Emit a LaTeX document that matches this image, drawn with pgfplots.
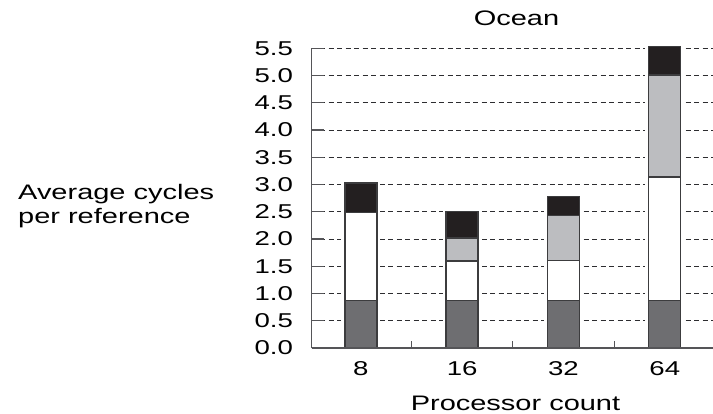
\documentclass[border=0pt]{standalone}
\usepackage{fontspec}
\setmainfont[FakeStretch=1.38]{Liberation Sans}
\usepackage{pgfplots}
\pgfplotsset{compat=1.18}
\usepackage{pgfplotstable}

\definecolor{segdark}{RGB}{110,110,113}
\definecolor{seglight}{RGB}{188,189,192}
\definecolor{segblack}{RGB}{35,31,32}
\definecolor{bordergray}{RGB}{60,60,62}
\definecolor{axisgray}{RGB}{85,85,88}
\definecolor{gridgray}{RGB}{45,45,48}

% Top of each stacked segment (cumulative cycles per reference)
\pgfplotstableread{
x dark white light black
0 0.87 2.49 2.49 3.03
1 0.87 1.60 2.02 2.50
2 0.87 1.61 2.43 2.78
3 0.87 3.14 5.01 5.53
}\tops

\begin{document}
\begin{tikzpicture}
\useasboundingbox (-311.7bp,-66bp) rectangle (401.3bp,348bp);
\begin{axis}[
  at={(0,0)}, anchor=south west,
  scale only axis, width=401.3bp, height=299.7bp,
  xmin=-0.485, xmax=3.476, ymin=0, ymax=5.5,
  axis lines*=left,
  axis line style={draw=axisgray, line width=1.4bp},
  ybar, bar width=32bp, bar shift=0pt,
  xtick={0,1,2,3}, xticklabels={8,16,32,64},
  minor xtick={0.5,1.5,2.5},
  every major x tick/.append style={draw=none},
  minor tick length=7bp, major tick length=12bp,
  tick align=inside,
  tick style={draw=axisgray, line width=1.2bp},
  ytick={0,0.5,1,1.5,2,2.5,3,3.5,4,4.5,5,5.5},
  ymajorgrids,
  major grid style={draw=gridgray, line width=0.8bp, dash pattern=on 5bp off 3.5bp},
  tick label style={font=\fontsize{20bp}{24bp}\selectfont},
  yticklabel style={anchor=east, inner sep=0pt, xshift=-18.5bp,
    /pgf/number format/.cd, fixed, fixed zerofill, precision=1, assume math mode=true},
  xticklabel style={anchor=north, inner sep=0pt, yshift=-13.5bp},
  clip=false,
]
% white halo keeps the dashed grid clear of each bar
\addplot[fill=segblack, draw=bordergray, line width=1.4bp,
  preaction={draw=white, line width=7bp}] table[x=x, y=black]{\tops};
\addplot[fill=seglight, draw=bordergray, line width=1.4bp] table[x=x, y=light]{\tops};
\addplot[fill=white, draw=bordergray, line width=1.4bp] table[x=x, y=white]{\tops};
\addplot[fill=segdark, draw=bordergray, line width=1.4bp] table[x=x, y=dark]{\tops};
% baseline redrawn over the halos
\draw[axisgray, line width=1.4bp] (rel axis cs:0,0) -- (rel axis cs:1,0);
\end{axis}
\begin{scope}[every node/.style={inner sep=0pt, font=\fontsize{21bp}{25bp}\selectfont}]
\node[anchor=base] at (204.8bp,322bp) {Ocean};
\node[anchor=base] at (203.8bp,-62bp) {Processor count};
\node[anchor=base west] at (-293.7bp,148bp) {Average cycles};
\node[anchor=base west] at (-293.7bp,124.7bp) {per reference};
\end{scope}
\end{tikzpicture}
\end{document}
